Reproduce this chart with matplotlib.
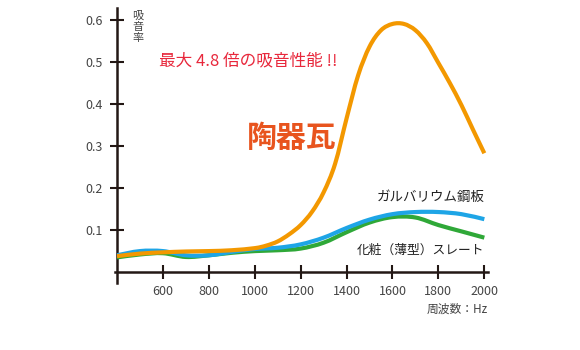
import matplotlib

matplotlib.use("Agg")
import matplotlib.pyplot as plt
import numpy as np
from matplotlib.patches import PathPatch
from matplotlib.path import Path

plt.rcParams["font.family"] = ["Noto Sans CJK JP", "DejaVu Sans"]

# 周波数 (Hz) と吸音率
freq = [400, 500, 600, 700, 800, 900, 1000, 1100, 1200, 1300, 1400, 1500, 1600, 1700, 1800, 1900, 2000]
galvalume = [0.040, 0.050, 0.050, 0.040, 0.040, 0.048, 0.055, 0.058, 0.066, 0.082, 0.105, 0.125, 0.138, 0.143, 0.143, 0.138, 0.126]
slate = [0.035, 0.042, 0.045, 0.036, 0.040, 0.046, 0.050, 0.052, 0.056, 0.070, 0.095, 0.118, 0.131, 0.130, 0.112, 0.097, 0.082]

freq_tile = [400, 500, 600, 700, 800, 900, 1000, 1050, 1100, 1150, 1200, 1250, 1300, 1350, 1400, 1450, 1500,
             1550, 1600, 1650, 1700, 1750, 1800, 1850, 1900, 1950, 2000]
tile = [0.038, 0.044, 0.047, 0.049, 0.050, 0.052, 0.057, 0.063, 0.073, 0.090, 0.112, 0.144, 0.190, 0.258, 0.366,
        0.468, 0.537, 0.576, 0.591, 0.591, 0.576, 0.545, 0.498, 0.450, 0.398, 0.340, 0.283]

x_ticks = [600, 800, 1000, 1200, 1400, 1600, 1800, 2000]
y_ticks = [0.1, 0.2, 0.3, 0.4, 0.5, 0.6]

AXIS_COLOR = "#231815"
LABEL_COLOR = "#444444"


def smooth_curve(ax, xs, ys, color, zorder):
    # Catmull-Rom through the measured points, drawn as cubic Bezier segments
    pts = np.column_stack([xs, ys]).astype(float)
    n = len(pts)
    verts = [pts[0]]
    codes = [Path.MOVETO]
    for i in range(n - 1):
        p0 = pts[max(i - 1, 0)]
        p1 = pts[i]
        p2 = pts[i + 1]
        p3 = pts[min(i + 2, n - 1)]
        verts += [p1 + (p2 - p0) / 6, p2 - (p3 - p1) / 6, p2]
        codes += [Path.CURVE4] * 3
    patch = PathPatch(Path(verts, codes), fill=False, edgecolor=color, lw=3.0,
                      capstyle="butt", joinstyle="round", zorder=zorder)
    ax.add_patch(patch)


fig = plt.figure(figsize=(5.8, 3.5), dpi=100)
ax = fig.add_axes([117 / 580, (350 - 283) / 350, (488 - 117) / 580, (283 - 8) / 350])

smooth_curve(ax, freq, slate, "#2fa838", 3)
smooth_curve(ax, freq, galvalume, "#1ea5e6", 4)
smooth_curve(ax, freq_tile, tile, "#f39800", 5)

ax.set_xlim(400, 2016)
ax.set_ylim(-0.026, 0.629)
for side in ("top", "right"):
    ax.spines[side].set_visible(False)
ax.spines["bottom"].set_position(("data", 0))
ax.spines["left"].set_position(("data", 400))
for side in ("left", "bottom"):
    ax.spines[side].set_linewidth(1.8)
    ax.spines[side].set_color(AXIS_COLOR)
ax.spines["bottom"].set_bounds(392, 2016)

ax.set_xticks(x_ticks)
ax.set_xticklabels([str(v) for v in x_ticks])
ax.set_yticks(y_ticks)
ax.set_yticklabels([f"{v:.1f}" for v in y_ticks])
ax.tick_params(axis="both", direction="inout", length=10, width=1.5, color=AXIS_COLOR,
               labelcolor=LABEL_COLOR, labelsize=9)
ax.tick_params(axis="x", pad=4)
ax.tick_params(axis="y", pad=5)
ax.patch.set_visible(False)

for ch, yv in zip("吸音率", [0.610, 0.584, 0.558]):
    ax.text(490, yv, ch, fontsize=8, color=LABEL_COLOR, ha="center", va="center")
ax.text(2016, -0.088, "周波数：Hz", fontsize=8.5, color=LABEL_COLOR, ha="right", va="center")
ax.text(582, 0.503, "最大 4.8 倍の吸音性能 !!", fontsize=12, color="#e8283c", ha="left", va="center")
ax.text(965, 0.319, "陶器瓦", fontsize=21.5, color="#e8541e", fontweight="bold", ha="left", va="center")
ax.text(2000, 0.178, "ガルバリウム鋼板", fontsize=9.7, color="#222222", ha="right", va="center")
ax.text(2000, 0.052, "化粧（薄型）スレート", fontsize=9.2, color="#222222", ha="right", va="center")

fig.savefig("out.png", dpi=100)
